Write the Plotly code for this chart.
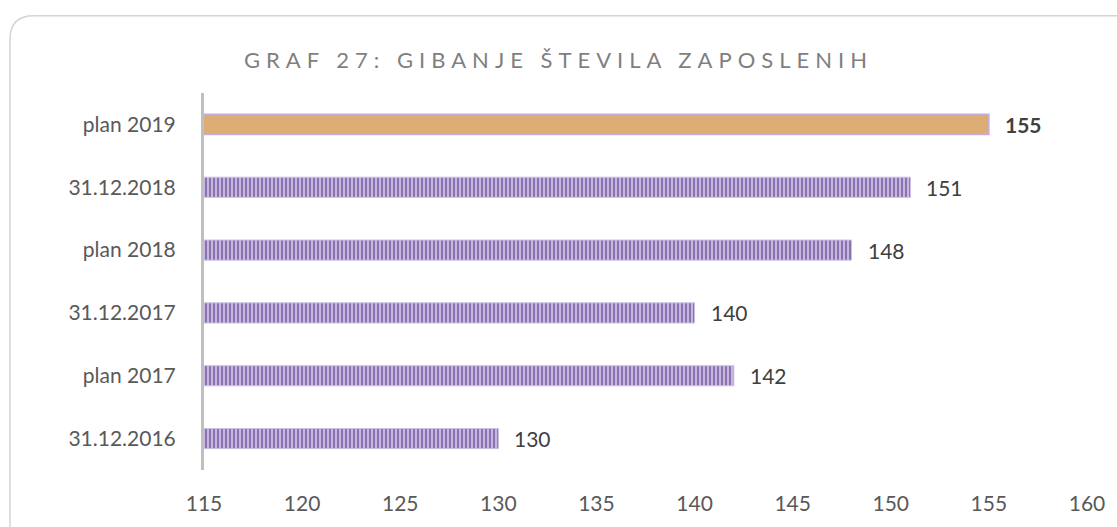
import plotly.graph_objects as go

# Data (bottom to top as drawn)
categories = ["31.12.2016", "plan 2017", "31.12.2017", "plan 2018", "31.12.2018", "plan 2019"]
values = [130, 142, 140, 148, 151, 155]
highlight = "plan 2019"
x_ticks = [115, 120, 125, 130, 135, 140, 145, 150, 155, 160]
title_text = "GRAF 27: GIBANJE ŠTEVILA ZAPOSLENIH"

FIG_W, FIG_H = 1117, 527
M_L, M_R, M_T, M_B = 204, 30, 93, 44
PLOT_W = FIG_W - M_L - M_R
PLOT_H = FIG_H - M_T - M_B
FONT = "Lato"


def to_paper(px, py):
    """Convert page pixel position to paper coordinates."""
    return (px - M_L) / PLOT_W, (FIG_H - M_B - py) / PLOT_H


fig = go.Figure()

# Striped purple bars for all but the highlighted category
reg_y = [c for c in categories if c != highlight]
reg_x = [v for c, v in zip(categories, values) if c != highlight]
fig.add_trace(go.Bar(
    y=reg_y, x=reg_x, orientation="h",
    marker=dict(
        color="#c6b8df",
        line=dict(color="#cbbfe2", width=1),
        pattern=dict(shape="|", fgcolor="#8164a9", bgcolor="#c6b8df",
                     size=4, solidity=0.42, fillmode="replace"),
    ),
    showlegend=False, hoverinfo="skip",
))

# Highlighted golden bar
hi_x = [v for c, v in zip(categories, values) if c == highlight]
fig.add_trace(go.Bar(
    y=[highlight], x=hi_x, orientation="h",
    marker=dict(color="#dcae76", line=dict(color="#c6aed8", width=1.5)),
    showlegend=False, hoverinfo="skip",
))

# Value labels
for c, v in zip(categories, values):
    txt = f"<b>{v}</b>" if c == highlight else str(v)
    fig.add_annotation(
        x=v, y=c, text=txt, showarrow=False, xanchor="left", yanchor="middle",
        xshift=14, font=dict(family=FONT, size=21, color="#404040"),
    )

# Rounded frame around the chart
r = 24
x0, y0, x1, y1 = 10, 13, 1140, 560
pts = {
    "a": to_paper(x0, y1), "b": to_paper(x0, y0 + r), "c": to_paper(x0, y0),
    "d": to_paper(x0 + r, y0), "e": to_paper(x1 - r, y0), "f": to_paper(x1, y0),
    "g": to_paper(x1, y0 + r), "h": to_paper(x1, y1),
}
p = lambda k: f"{pts[k][0]:.5f},{pts[k][1]:.5f}"
frame = (f"M {p('a')} L {p('b')} Q {p('c')} {p('d')} L {p('e')} "
         f"Q {p('f')} {p('g')} L {p('h')}")
fig.add_shape(type="path", path=frame, xref="paper", yref="paper",
              line=dict(color="#d4d4d4", width=1.5), layer="below")

fig.update_layout(
    width=FIG_W, height=FIG_H,
    margin=dict(l=M_L, r=M_R, t=M_T, b=M_B),
    paper_bgcolor="white", plot_bgcolor="white",
    barmode="overlay", bargap=0.68,
    title=dict(text=title_text, xref="container", x=0.5, xanchor="center",
               y=1 - 60 / FIG_H, yanchor="middle",
               font=dict(family=FONT, size=22, color="#7f7f7f")),
    xaxis=dict(range=[115, 160], tickvals=x_ticks, showgrid=False, zeroline=False,
               showline=False, ticks="", ticklabelstandoff=19,
               tickfont=dict(family=FONT, size=21, color="#595959")),
    yaxis=dict(categoryorder="array", categoryarray=categories, showgrid=False,
               zeroline=False, showline=True, linecolor="#bfbfbf", linewidth=3,
               ticks="", ticklabelstandoff=21,
               tickfont=dict(family=FONT, size=21, color="#595959")),
)

fig.write_html(
    "out.html",
    post_script="document.querySelectorAll('.gtitle').forEach(function(t){t.style.letterSpacing='6px';});",
)
